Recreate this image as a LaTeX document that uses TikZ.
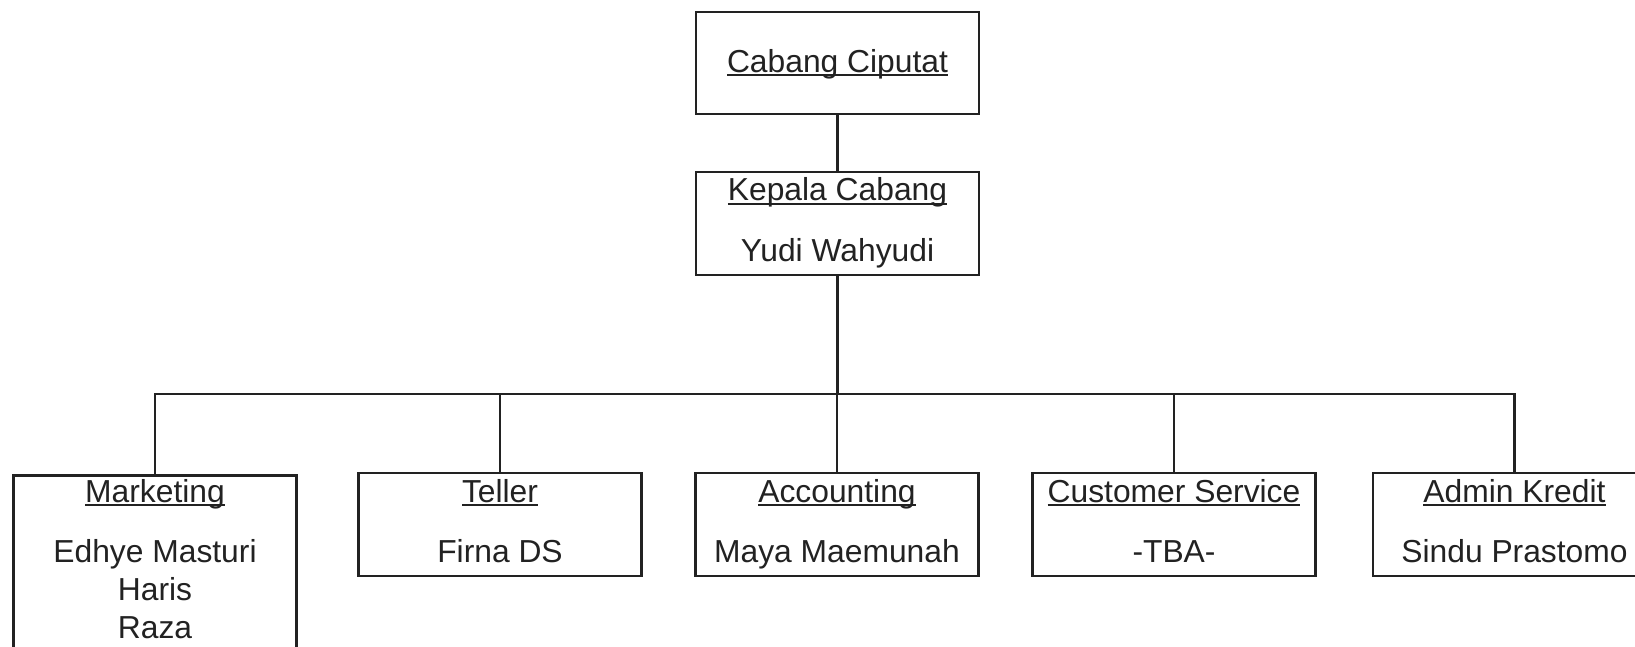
\documentclass[tikz,border=0pt]{standalone}
\usepackage{fontspec}
\setmainfont{Liberation Sans}
\definecolor{ink}{RGB}{34,34,34}
\newcommand\myul[1]{\setbox0\hbox{#1}\rlap{\rule[-4pt]{\wd0}{2pt}}\box0}
\begin{document}
\begin{tikzpicture}[x=1pt,y=-1pt,
  box/.style={draw=ink,line width=2.6pt,rectangle,inner sep=0pt,minimum width=283pt,minimum height=103pt},
  txt/.style={anchor=base,inner sep=0pt,text=ink,font=\fontsize{31.8}{38}\selectfont},
  link/.style={draw=ink,line width=2.5pt}]
\useasboundingbox (0,0) rectangle (1635,647);
\clip (0,0) rectangle (1635,647);
\fill[white] (0,0) rectangle (1635,647);
% boxes
\node[box,minimum height=102pt] (cab) at (837.5,63) {};
\node[box] (kep) at (837.5,223.5) {};
\node[box,minimum height=230pt,anchor=north] (mkt) at (155,474) {};
\node[box] (tel) at (500,524.5) {};
\node[box] (acc) at (837,524.5) {};
\node[box] (cs) at (1174,524.5) {};
\node[box] (adm) at (1514.5,524.5) {};
% texts
\node[txt] (t1) at (837.5,72.5) {\myul{Cabang Ciputat}};
\node[txt] (t2) at (837.5,200.5) {\myul{Kepala Cabang}};
\node[txt] (t3) at (837.5,261) {Yudi Wahyudi};
\node[txt] (t4) at (155,502) {\myul{Marketing}};
\node[txt] (t5) at (155,562) {Edhye Masturi};
\node[txt] (t6) at (155,600) {Haris};
\node[txt] (t7) at (155,638) {Raza};
\node[txt] (t8) at (500,502) {\myul{Teller}};
\node[txt] (t9) at (500,562) {Firna DS};
\node[txt] (t10) at (837,502) {\myul{Accounting}};
\node[txt] (t11) at (837,562) {Maya Maemunah};
\node[txt] (t12) at (1174,502) {\myul{Customer Service}};
\node[txt] (t13) at (1174,562) {-TBA-};
\node[txt] (t14) at (1514.5,502) {\myul{Admin Kredit}};
\node[txt] (t15) at (1514.5,562) {Sindu Prastomo};
% connectors
\coordinate (bus) at (836,394);
\draw[link] (cab.south) -- (kep.north);
\draw[link] (kep.south) -- (kep.south |- bus);
\draw[link] (mkt.north) -- (mkt.north |- bus) -- (adm.north |- bus) -- (adm.north);
\draw[link] (tel.north) -- (tel.north |- bus);
\draw[link] (acc.north) -- (acc.north |- bus);
\draw[link] (cs.north) -- (cs.north |- bus);
\end{tikzpicture}
\end{document}
